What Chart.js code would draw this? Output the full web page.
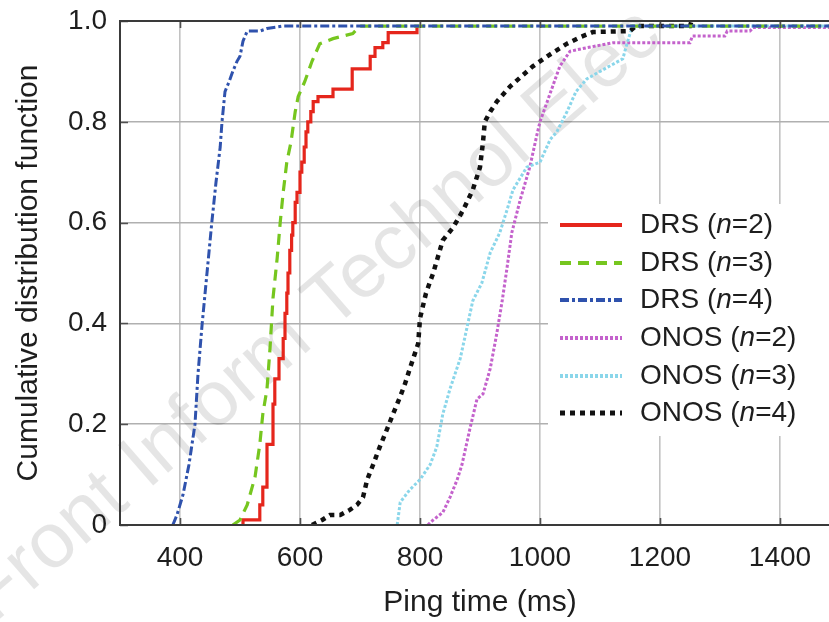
<!DOCTYPE html>
<html><head><meta charset="utf-8">
<script src="https://cdn.jsdelivr.net/npm/chart.js@4.4.1/dist/chart.umd.min.js"></script>
<style>
html,body{margin:0;padding:0;overflow:hidden;background:#fff;width:829px;height:622px}
#wrap{position:absolute;left:0;top:0;width:860px;height:622px}
</style>
</head><body><div id="wrap"><canvas id="c" width="860" height="622"></canvas></div>
<script>
// ---- data ----
const xTicks = [400, 600, 800, 1000, 1200, 1400];
const yTicks = [0, 0.2, 0.4, 0.6, 0.8, 1.0];
const yTickLabels = ['0', '0.2', '0.4', '0.6', '0.8', '1.0'];
const seriesSystem = ['DRS', 'DRS', 'DRS', 'ONOS', 'ONOS', 'ONOS'];
const seriesN = ['2', '3', '4', '2', '3', '4'];

const drs2Time = [505,505,533,538,545,555,558,565,572,575,578,580,583,586,588,592,595,600,603,607,610,613,618,622,630,655,687,717,725,738,747,795];
const drs2Cdf  = [0,0.01,0.04,0.075,0.16,0.24,0.29,0.33,0.37,0.42,0.46,0.50,0.545,0.575,0.60,0.64,0.66,0.70,0.72,0.75,0.78,0.80,0.82,0.84,0.85,0.865,0.905,0.93,0.947,0.957,0.977,0.99];

const drs3Time = [488,500,512,525,533,538,545,550,555,562,567,572,578,585,592,597,608,620,633,655,688,700,1500];
const drs3Cdf  = [0,0.01,0.04,0.095,0.16,0.22,0.27,0.35,0.45,0.53,0.60,0.66,0.72,0.76,0.82,0.85,0.88,0.92,0.955,0.965,0.975,0.99,0.99];

const drs4Time = [388,395,405,415,425,430,437,445,453,460,467,470,475,482,488,495,500,505,512,533,545,572,1500];
const drs4Cdf  = [0,0.02,0.06,0.12,0.20,0.30,0.40,0.50,0.60,0.68,0.75,0.80,0.86,0.88,0.90,0.92,0.93,0.96,0.98,0.98,0.985,0.99,0.99];

const onos2Time = [813,822,838,850,862,870,883,895,905,917,928,937,945,953,967,983,995,1000,1012,1033,1050,1078,1122,1250,1254,1308,1312,1350,1355,1500];
const onos2Cdf  = [0,0.01,0.025,0.055,0.09,0.12,0.19,0.25,0.26,0.31,0.38,0.445,0.51,0.58,0.645,0.71,0.775,0.80,0.84,0.91,0.94,0.947,0.957,0.957,0.97,0.97,0.98,0.98,0.987,0.987];

const onos3Time = [762,767,783,800,817,828,838,850,867,878,888,903,917,933,945,955,978,1000,1017,1028,1045,1060,1078,1100,1138,1145,1150,1155,1500];
const onos3Cdf  = [0,0.045,0.07,0.09,0.12,0.155,0.22,0.27,0.33,0.39,0.445,0.48,0.54,0.58,0.625,0.665,0.71,0.72,0.765,0.78,0.82,0.86,0.885,0.90,0.925,0.955,0.975,0.99,0.99];

const onos4Time = [620,637,650,667,683,695,705,712,722,733,745,755,767,775,783,797,800,810,822,838,855,872,888,900,905,908,917,928,950,988,1012,1045,1067,1088,1150,1160,1250,1252];
const onos4Cdf  = [0,0.01,0.02,0.02,0.03,0.04,0.055,0.09,0.12,0.155,0.19,0.22,0.255,0.28,0.31,0.36,0.41,0.46,0.50,0.565,0.59,0.625,0.665,0.71,0.76,0.80,0.82,0.84,0.87,0.91,0.93,0.955,0.968,0.978,0.98,0.99,0.99,0.998];

// ---- styles ----
const FONT = '"Liberation Sans", Arial, sans-serif';
const TEXT = '#1e1e1e';
const pts = (xs, ys) => xs.map((x, i) => ({x: x, y: ys[i]}));

const styles = [
  {color:'#e5261c', width:3.2, dash:[], lw:4, stepped:'before', order:5},
  {color:'#76c61f', width:3.2, dash:[11,7], lw:4, stepped:false, order:1},
  {color:'#2f52ad', width:3, dash:[9,3,3,3], lw:4, stepped:false, order:0},
  {color:'#c462cc', width:3, dash:[3,2], lw:4, stepped:false, order:4},
  {color:'#8ad6ea', width:3, dash:[3,2], lw:4, stepped:false, order:3},
  {color:'#111111', width:4.5, dash:[5,5], lw:5, stepped:false, order:2}
];
const seriesData = [
  pts(drs2Time, drs2Cdf), pts(drs3Time, drs3Cdf), pts(drs4Time, drs4Cdf),
  pts(onos2Time, onos2Cdf), pts(onos3Time, onos3Cdf), pts(onos4Time, onos4Cdf)
];

const datasets = seriesData.map((d, i) => ({
  label: seriesSystem[i] + ' (n=' + seriesN[i] + ')',
  data: d,
  borderColor: styles[i].color,
  backgroundColor: styles[i].color,
  borderWidth: styles[i].width,
  borderDash: styles[i].dash,
  borderCapStyle: 'butt',
  stepped: styles[i].stepped,
  pointRadius: 0,
  tension: 0,
  fill: false,
  order: styles[i].order
}));

const LEG = {x0:548, y0:204, x1:860, y1:436, lineX0:560, lineX1:622, textX:640, rows:[225,263,300,338,376,413]};

const decor = {
  id: 'decor',
  beforeDatasetsDraw(chart) {
    const ctx = chart.ctx;
    // watermark
    ctx.save();
    ctx.translate(-6, 624);
    ctx.rotate(-41 * Math.PI / 180);
    ctx.font = '78px ' + FONT;
    ctx.fillStyle = 'rgba(0,0,0,0.10)';
    ctx.textBaseline = 'alphabetic';
    ctx.fillText('Front Inform Technol Elec', 0, 0);
    ctx.restore();
    // legend background
    ctx.save();
    ctx.fillStyle = '#ffffff';
    ctx.fillRect(LEG.x0, LEG.y0, LEG.x1 - LEG.x0, LEG.y1 - LEG.y0);
    ctx.restore();
  },
  afterDatasetsDraw(chart) {
    const ctx = chart.ctx;
    const a = chart.chartArea;
    const xs = chart.scales.x, ys = chart.scales.y;
    ctx.save();
    // inward tick marks
    ctx.strokeStyle = '#505050';
    ctx.lineWidth = 1.6;
    ctx.beginPath();
    xTicks.forEach(v => {
      const px = Math.round(xs.getPixelForValue(v)) + 0.5;
      ctx.moveTo(px, a.bottom); ctx.lineTo(px, a.bottom - 7);
      ctx.moveTo(px, a.top); ctx.lineTo(px, a.top + 7);
    });
    yTicks.forEach(v => {
      const py = Math.round(ys.getPixelForValue(v)) + 0.5;
      ctx.moveTo(a.left, py); ctx.lineTo(a.left + 8, py);
      ctx.moveTo(a.right, py); ctx.lineTo(a.right - 8, py);
    });
    ctx.stroke();
    // frame
    ctx.strokeStyle = '#3a3a3a';
    ctx.lineWidth = 2;
    ctx.strokeRect(a.left, a.top, a.right - a.left, a.bottom - a.top);
    // legend
    datasets.forEach((ds, i) => {
      const y = LEG.rows[i];
      ctx.save();
      ctx.strokeStyle = styles[i].color;
      ctx.lineWidth = styles[i].lw;
      ctx.setLineDash(styles[i].dash);
      ctx.lineCap = 'butt';
      ctx.beginPath();
      ctx.moveTo(LEG.lineX0, y); ctx.lineTo(LEG.lineX1, y);
      ctx.stroke();
      ctx.restore();
      ctx.fillStyle = TEXT;
      ctx.textBaseline = 'middle';
      ctx.textAlign = 'left';
      let x = LEG.textX;
      const p1 = seriesSystem[i] + ' (';
      ctx.font = '28px ' + FONT;
      ctx.fillText(p1, x, y); x += ctx.measureText(p1).width;
      ctx.font = 'italic 28px ' + FONT;
      ctx.fillText('n', x, y); x += ctx.measureText('n').width;
      ctx.font = '28px ' + FONT;
      ctx.fillText('=' + seriesN[i] + ')', x, y);
    });
    ctx.restore();
  }
};

new Chart(document.getElementById('c'), {
  type: 'line',
  data: {datasets: datasets},
  plugins: [decor],
  options: {
    responsive: false,
    animation: false,
    devicePixelRatio: 1,
    layout: {padding: {top: 21, right: 20, left: 0, bottom: 0}},
    plugins: {legend: {display: false}, tooltip: {enabled: false}},
    scales: {
      x: {
        type: 'linear', min: 300, max: 1500,
        afterBuildTicks: s => { s.ticks = xTicks.map(v => ({value: v})); },
        afterFit: s => { s.height = 97; s.paddingLeft = 0; s.paddingRight = 0; },
        grid: {color: '#c2c2c2', lineWidth: 1.6, drawTicks: false},
        border: {display: false},
        ticks: {font: {family: FONT, size: 28}, color: TEXT, padding: 16, maxRotation: 0, autoSkip: false,
                callback: v => String(v)},
        title: {display: true, text: 'Ping time (ms)', font: {family: FONT, size: 30}, color: TEXT,
                padding: {top: 0, bottom: 1}}
      },
      y: {
        type: 'linear', min: 0, max: 1,
        afterBuildTicks: s => { s.ticks = yTicks.map(v => ({value: v})); },
        afterFit: s => { s.width = 120; s.paddingTop = 0; s.paddingBottom = 0; },
        grid: {color: '#b0b0b0', lineWidth: 1.6, drawTicks: false},
        border: {display: false},
        ticks: {font: {family: FONT, size: 28}, color: TEXT, padding: 13, autoSkip: false,
                callback: (v, i) => yTickLabels[i]},
        title: {display: true, text: 'Cumulative distribution function', font: {family: FONT, size: 30}, color: TEXT,
                padding: {top: 11, bottom: 0}}
      }
    }
  }
});
</script>
</body></html>
